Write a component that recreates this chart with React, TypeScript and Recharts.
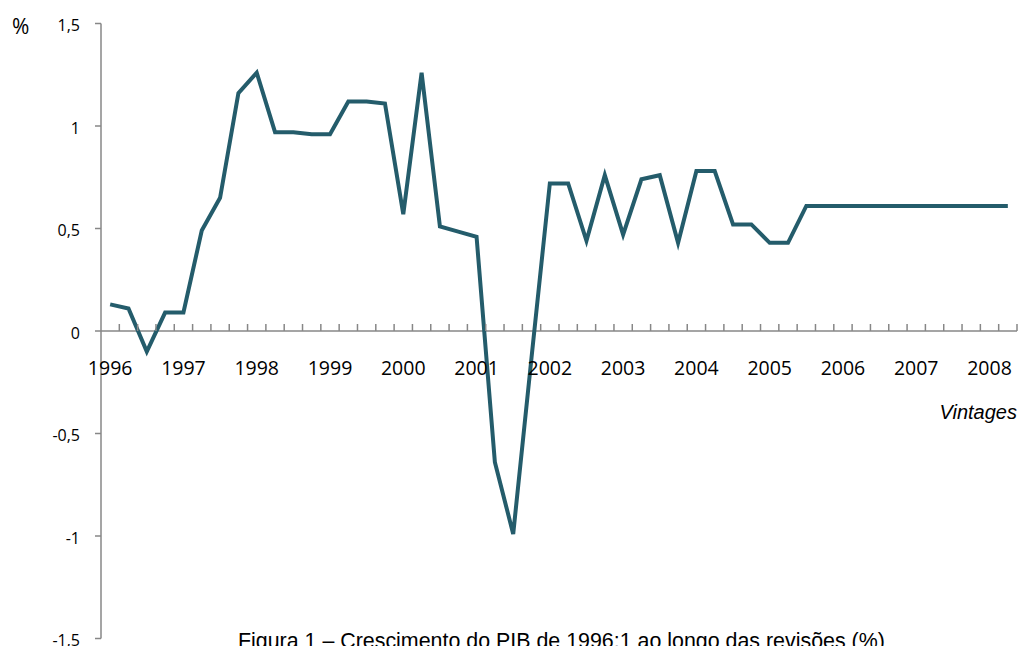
import { LineChart, Line, XAxis, YAxis, ReferenceLine, ReferenceDot } from "recharts";

// vintages 1996:1 .. 2008:2 (quarterly)
const years = [1996, 1997, 1998, 1999, 2000, 2001, 2002, 2003, 2004, 2005, 2006, 2007, 2008];
const quarters = [1, 2, 3, 4];
const vintages = years.flatMap((y) => quarters.map((q) => `${y}:${q}`)).slice(0, 50);

// growth of 1996:1 GDP as estimated in each vintage (%)
const growth = [
  0.13, 0.11, -0.1, 0.09,
  0.09, 0.49, 0.65, 1.16,
  1.26, 0.97, 0.97, 0.96,
  0.96, 1.12, 1.12, 1.11,
  0.57, 1.26, 0.51, 0.485,
  0.46, -0.64, -0.99, -0.13,
  0.72, 0.72, 0.44, 0.76,
  0.47, 0.74, 0.76, 0.43,
  0.78, 0.78, 0.52, 0.52,
  0.43, 0.43, 0.61, 0.61,
  0.61, 0.61, 0.61, 0.61,
  0.61, 0.61, 0.61, 0.61,
  0.61, 0.61,
];

const yTicks = [-1.5, -1, -0.5, 0, 0.5, 1, 1.5];

const data = vintages.map((v, i) => ({ vintage: v, growth: growth[i] }));

const W = 1021;
const H = 646;
const margin = { top: 23.5, right: 4, bottom: 7.5, left: 0 };
const Y_AXIS_W = 101;
const BAND = (W - Y_AXIS_W - margin.right) / vintages.length;

const AXIS = "#878787";
const LINE = "#245c6b";
const TICK_FONT = "'Open Sans', sans-serif";
const ARIAL = "'Liberation Sans', Arial, sans-serif";

// eslint-disable-next-line @typescript-eslint/no-explicit-any
function YTick(props: any) {
  const { x, y, payload } = props;
  return (
    <text x={x} y={y + 1.5} textAnchor="end" dominantBaseline="central"
      fontFamily={TICK_FONT} fontSize={16} fill="#000">
      {String(payload.value).replace(".", ",")}
    </text>
  );
}

// tick mark between categories + year label on the zero line
// eslint-disable-next-line @typescript-eslint/no-explicit-any
function AxisMark(props: any) {
  const { cx, cy, vintage } = props;
  const [year, q] = vintage.split(":");
  return (
    <g>
      <line x1={cx + BAND / 2} x2={cx + BAND / 2} y1={cy - 7} y2={cy} stroke={AXIS} strokeWidth={1.5} />
      {q === "1" && (
        <text x={cx} y={cy + 43.5} textAnchor="middle" fontFamily={TICK_FONT} fontSize={19.5} fill="#000">
          {year}
        </text>
      )}
    </g>
  );
}

export default function App() {
  return (
    <div style={{ position: "absolute", left: 0, top: 0, width: W, height: H, overflow: "hidden", background: "#fff" }}>
      <LineChart width={W} height={H} data={data} margin={margin}>
        <XAxis dataKey="vintage" hide padding={{ left: BAND / 2, right: BAND / 2 }} />
        <YAxis
          domain={[-1.5, 1.5]}
          ticks={yTicks}
          interval={0}
          width={Y_AXIS_W}
          tickSize={6}
          tickMargin={15}
          axisLine={{ stroke: AXIS, strokeWidth: 1.5 }}
          tickLine={{ stroke: AXIS, strokeWidth: 1.5 }}
          tick={<YTick />}
        />
        <ReferenceLine y={0} stroke={AXIS} strokeWidth={1.5} />
        {vintages.map((v) => (
          <ReferenceDot key={v} x={v} y={0} r={0} shape={(p: any) => <AxisMark {...p} vintage={v} />} />
        ))}
        <Line
          type="linear"
          dataKey="growth"
          stroke={LINE}
          strokeWidth={4}
          dot={false}
          activeDot={false}
          isAnimationActive={false}
        />
      </LineChart>
      <div style={{ position: "absolute", left: 12, top: 12, fontFamily: TICK_FONT, fontSize: 21, lineHeight: "28px" }}>%</div>
      <div style={{ position: "absolute", right: 4, top: 399, fontFamily: ARIAL, fontStyle: "italic", fontSize: 20, lineHeight: "26px" }}>
        Vintages
      </div>
      <div style={{ position: "absolute", left: 238, top: 628, whiteSpace: "nowrap", fontFamily: ARIAL, fontSize: 21.4, lineHeight: "26px" }}>
        Figura 1 – Crescimento do PIB de 1996:1 ao longo das revisões (%)
      </div>
    </div>
  );
}
